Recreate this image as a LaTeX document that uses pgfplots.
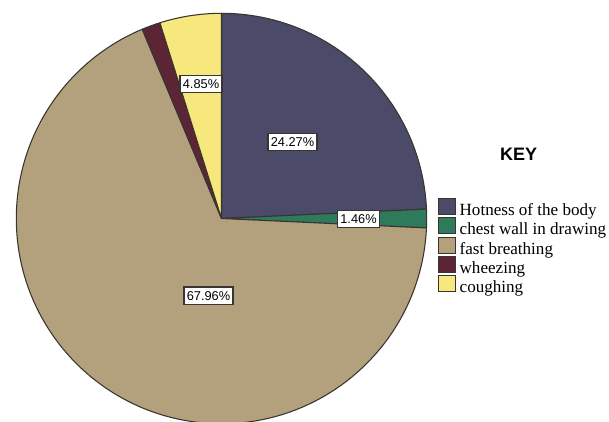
\documentclass[border=0pt]{standalone}
\usepackage{pgfplots}
\pgfplotsset{compat=1.18}
\usepackage{pgfplotstable}
\usepackage{fontspec}
\setmainfont{Liberation Serif}
\newfontfamily\arial{Liberation Sans}

\definecolor{hot}{HTML}{4B4A68}
\definecolor{chest}{HTML}{2E7B5B}
\definecolor{fast}{HTML}{B3A17E}
\definecolor{wheez}{HTML}{5C2535}
\definecolor{cough}{HTML}{F6E87C}
\definecolor{edge}{HTML}{3A3430}

% share of each symptom, in percent, clockwise from 12 o'clock
\pgfplotstableread{
cat      pct
Hotness  24.27
Chest    1.46
Fast     67.96
Wheezing 1.46
Coughing 4.85
}\piedata

% end angle of each slice
\def\acc{90}
\newcommand\getangle[2]{%
  \pgfplotstablegetelem{#1}{pct}\of\piedata
  \pgfmathsetmacro\acc{\acc-3.6*\pgfplotsretval}%
  \global\let#2\acc}
\getangle{0}\aA
\getangle{1}\aB
\getangle{2}\aC
\getangle{3}\aD
\getangle{4}\aE

% pie centre (pixels) and radius
\def\cx{221.5}
\def\cy{218.5}
\def\rad{153.9pt}
\newcommand\pieslice[3]{%
  \fill[#1, draw=edge, line width=0.8pt, line join=round]
    (axis cs:\cx,\cy) -- ++(#2:\rad) arc[start angle=#2, end angle=#3, radius=\rad] -- cycle;}

\tikzset{pct/.style={draw=edge, line width=1.1pt, fill=white, inner xsep=2pt, inner ysep=3pt,
  font=\arial\fontsize{9.6}{11}\selectfont}}

\begin{document}
\begin{tikzpicture}
\useasboundingbox (0,0) rectangle (456.75pt,315.75pt);
\begin{axis}[
  at={(0,0)}, anchor=south west,
  scale only axis, width=456.75pt, height=315.75pt,
  xmin=0, xmax=609, ymin=0, ymax=421, y dir=reverse,
  hide axis, clip=true,
  legend cell align=left,
  legend image code/.code={\draw[#1, line width=0.8pt] (0pt,-3.25pt) rectangle (12.75pt,8.75pt);},
  legend style={draw=none, fill=none, at={(axis cs:438,198)}, anchor=north west,
    font=\fontsize{12.8}{14}\selectfont, inner sep=0pt, row sep=-1.8pt, column sep=2.5pt,
    nodes={inner sep=0pt, text height=11pt, text depth=3pt}},
]
\pieslice{hot}{90}{\aA}
\pieslice{chest}{\aA}{\aB}
\pieslice{fast}{\aB}{\aC}
\pieslice{wheez}{\aC}{\aD}
\pieslice{cough}{\aD}{\aE}

\node[pct] at (axis cs:292.5,142) {24.27\%};
\node[pct] at (axis cs:358.5,219) {1.46\%};
\node[pct] at (axis cs:208.5,295.7) {67.96\%};
\node[pct] at (axis cs:201,84) {4.85\%};

\node[font=\arial\bfseries\fontsize{13.5}{16}\selectfont] at (axis cs:518.5,154) {KEY};

\addlegendimage{fill=hot, draw=edge}
\addlegendentry{Hotness of the body}
\addlegendimage{fill=chest, draw=edge}
\addlegendentry{chest wall in drawing}
\addlegendimage{fill=fast, draw=edge}
\addlegendentry{fast breathing}
\addlegendimage{fill=wheez, draw=edge}
\addlegendentry{wheezing}
\addlegendimage{fill=cough, draw=edge}
\addlegendentry{coughing}
\end{axis}
\end{tikzpicture}
\end{document}
